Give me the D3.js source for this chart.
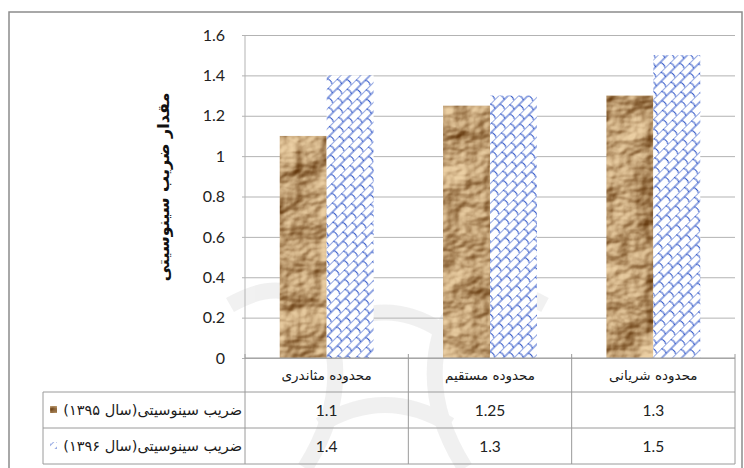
<!DOCTYPE html>
<html>
<head>
<meta charset="utf-8">
<script src="https://cdn.jsdelivr.net/npm/d3@7/dist/d3.min.js"></script>
<style>
  html, body { margin: 0; padding: 0; background: #fff; }
  svg { display: block; }
</style>
</head>
<body>
<svg id="chart" width="744" height="468"></svg>
<script>
// Sinuosity index by river reach, two survey years
const categories = ["محدوده مثاندری", "محدوده مستقیم", "محدوده شریانی"];
const seriesNames = ["ضریب سینوسیتی(سال ۱۳۹۵)", "ضریب سینوسیتی(سال ۱۳۹۶)"];
const values1395 = [1.1, 1.25, 1.3];
const values1396 = [1.4, 1.3, 1.5];
const yTickValues = [0, 0.2, 0.4, 0.6, 0.8, 1, 1.2, 1.4, 1.6];
const yTickLabels = ["0", "0.2", "0.4", "0.6", "0.8", "1", "1.2", "1.4", "1.6"];
const yAxisTitle = "مقدار ضریب سینوسیتی";

const series = [
  { key: "s1395", name: seriesNames[0], values: values1395 },
  { key: "s1396", name: seriesNames[1], values: values1396 }
];

const svg = d3.select("#chart");
const plot = { left: 245, right: 735, top: 35, bottom: 358 };
const rowH = [34, 36, 36];
const tableLeft = 43;
const gridColor = "#b3b3b3";
const latin = "Lato, 'Open Sans', sans-serif";
const persian = "'DejaVu Sans', sans-serif";

const defs = svg.append("defs");

// crumpled paper texture: lit noise mapped onto a tan-brown ramp
const f = defs.append("filter").attr("id", "crumple")
  .attr("x", 0).attr("y", 0).attr("width", 1).attr("height", 1)
  .attr("color-interpolation-filters", "sRGB");
f.append("feTurbulence").attr("type", "fractalNoise")
  .attr("baseFrequency", "0.02 0.028").attr("numOctaves", 4).attr("seed", 23).attr("result", "noise");
const lit = f.append("feDiffuseLighting").attr("in", "noise")
  .attr("lighting-color", "#ffffff").attr("surfaceScale", 10)
  .attr("diffuseConstant", 1.05).attr("result", "lit");
lit.append("feDistantLight").attr("azimuth", 220).attr("elevation", 40);
f.append("feColorMatrix").attr("in", "lit").attr("type", "matrix")
  .attr("values", "0.52 0 0 0 0.4  0 0.58 0 0 0.23  0 0 0.58 0 0.06  0 0 0 1 0")
  .attr("result", "tone");
f.append("feComposite").attr("in", "tone").attr("in2", "SourceGraphic").attr("operator", "in");

// blue shingle hatch: brick rows laid along the "/" diagonal
const sh = defs.append("pattern").attr("id", "shingle").attr("patternUnits", "userSpaceOnUse")
  .attr("width", 13).attr("height", 14).attr("patternTransform", "rotate(-45)");
sh.append("rect").attr("x", -1).attr("y", -1).attr("width", 15).attr("height", 16).attr("fill", "#fff");
sh.append("path")
  .attr("d", "M-1,0H14 M-1,7H14 M0,0 q2.2,3.5 0,7 M6.5,7 q2.2,3.5 0,7 M13,0 q2.2,3.5 0,7")
  .attr("fill", "none").attr("stroke", "#2f55c8").attr("stroke-width", 1.05);

// faint emblem in the background
const wm = svg.append("g").attr("opacity", 0.075).attr("fill", "none").attr("stroke", "#444").attr("stroke-width", 16);
wm.append("path").attr("d", "M230,305 Q300,265 330,335 Q348,400 305,468");
wm.append("path").attr("d", "M545,305 Q470,265 440,335 Q422,400 465,468");
wm.append("path").attr("d", "M330,330 Q385,295 440,330");
wm.append("path").attr("d", "M320,425 Q385,385 450,425");

// outer frame
svg.append("rect").attr("x", 9).attr("y", 12).attr("width", 733).attr("height", 460)
  .attr("fill", "none").attr("stroke", "#8c8c8c").attr("stroke-width", 1.5);

const y = d3.scaleLinear().domain([0, 1.6]).range([plot.bottom, plot.top]);
const x = d3.scaleBand().domain(categories).range([plot.left, plot.right]).padding(0);
const xs = d3.scaleBand().domain(series.map(s => s.key)).range([0, x.bandwidth()])
  .paddingInner(0).paddingOuter(0.74);

// gridlines + y axis
const yAxis = d3.axisLeft(y).tickValues(yTickValues)
  .tickFormat((d, i) => yTickLabels[i])
  .tickSize(-(plot.right - plot.left)).tickPadding(20);
const gy = svg.append("g").attr("transform", `translate(${plot.left},0)`).call(yAxis);
gy.select(".domain").attr("stroke", gridColor).attr("d", `M0,${plot.top}V${plot.bottom}`);
gy.selectAll(".tick line").attr("stroke", gridColor).attr("x1", -3);
gy.selectAll(".tick text").attr("font-family", latin).attr("font-size", 16).attr("fill", "#222");

// bars
series.forEach(s => {
  const bars = svg.append("g").selectAll("rect").data(s.values).join("rect")
    .attr("x", (d, i) => x(categories[i]) + xs(s.key))
    .attr("y", d => y(d))
    .attr("width", xs.bandwidth())
    .attr("height", d => y(0) - y(d));
  if (s.key === "s1395") bars.attr("fill", "#c4a47c").attr("filter", "url(#crumple)");
  else bars.attr("fill", "url(#shingle)");
});

// y axis title
svg.append("text")
  .attr("transform", `translate(163,187) rotate(-90)`)
  .attr("dy", "0.35em")
  .attr("text-anchor", "middle").attr("direction", "rtl")
  .attr("font-family", persian).attr("font-weight", "bold").attr("font-size", 16).attr("fill", "#111")
  .text(yAxisTitle);

// data table
const t = svg.append("g").attr("stroke", "#9a9a9a").attr("stroke-width", 1).attr("fill", "none");
const yRow0 = plot.bottom, yRow1 = yRow0 + rowH[0], yRow2 = yRow1 + rowH[1], yRow3 = yRow2 + rowH[2];
t.append("line").attr("x1", plot.left).attr("x2", plot.right).attr("y1", yRow0).attr("y2", yRow0);
[yRow1, yRow2, yRow3].forEach(yy =>
  t.append("line").attr("x1", tableLeft).attr("x2", plot.right).attr("y1", yy).attr("y2", yy));
t.append("line").attr("x1", tableLeft).attr("x2", tableLeft).attr("y1", yRow1).attr("y2", yRow3);
[...categories.map(c => x(c)), plot.right].forEach(xx =>
  t.append("line").attr("x1", xx).attr("x2", xx).attr("y1", yRow0 - 4).attr("y2", yRow3));

// category labels
svg.append("g").selectAll("text").data(categories).join("text")
  .attr("x", c => x(c) + x.bandwidth() / 2).attr("y", yRow0 + rowH[0] / 2 + 5)
  .attr("text-anchor", "middle").attr("direction", "rtl")
  .attr("font-family", persian).attr("font-size", 13.5).attr("fill", "#1a1a1a")
  .text(c => c);

// series rows
series.forEach((s, si) => {
  const top = si === 0 ? yRow1 : yRow2;
  const cy = top + rowH[si + 1] / 2;
  svg.append("text").attr("x", plot.left - 3).attr("y", cy + 5)
    .attr("text-anchor", "start").attr("direction", "rtl")
    .attr("font-family", persian).attr("font-size", 14.5).attr("fill", "#1a1a1a")
    .text(s.name);
  const key = svg.append("rect").attr("x", 50).attr("y", cy - 4).attr("width", 7).attr("height", 7);
  if (si === 0) key.attr("fill", "#c4a47c").attr("filter", "url(#crumple)");
  else key.attr("fill", "url(#shingle)");
  svg.append("g").selectAll("text").data(s.values).join("text")
    .attr("x", (d, i) => x(categories[i]) + x.bandwidth() / 2).attr("y", cy + 6)
    .attr("text-anchor", "middle")
    .attr("font-family", latin).attr("font-size", 15.5).attr("fill", "#222")
    .text(d => String(d));
});
</script>
</body>
</html>
